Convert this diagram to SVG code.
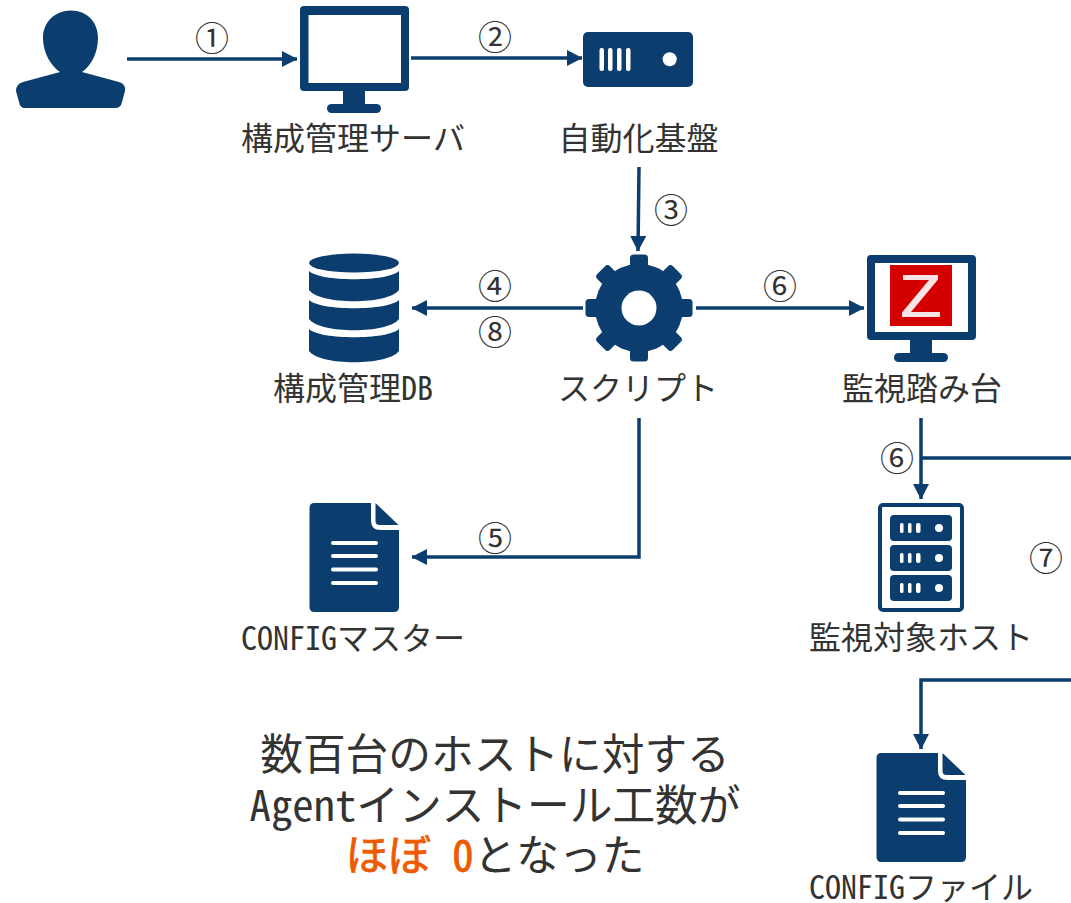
<svg xmlns="http://www.w3.org/2000/svg" xmlns:xlink="http://www.w3.org/1999/xlink" width="1071" height="903" viewBox="0 0 1071 903">
<style>
text{font-family:"Noto Sans Mono CJK JP","Noto Sans CJK JP","Noto Sans CJK SC",sans-serif;fill:#333;text-anchor:middle;font-weight:300}
.l{font-size:32px}
.n{font-size:34px}
.b{font-size:42.7px}
.o{fill:#ee5a00;stroke:#ee5a00;stroke-width:.8;font-weight:400}
.c{fill:none;stroke:#0b3e6f;stroke-width:3.5}
.f{fill:#0b3e6f}
.w{fill:#fff}
</style>
<defs>
<marker id="a" markerUnits="userSpaceOnUse" markerWidth="16" markerHeight="16" refX="15" refY="8" orient="auto"><path d="M0 0L15.500 8L0 16Z" fill="#0b3e6f"/></marker>
<g id="doc"><path class="f" d="M5 0H61.500V18Q61.500 27 71 27H89.500V104Q89.500 109 84.500 109H5Q0 109 0 104V5Q0 0 5 0Z"/><path class="f" d="M66 0L89 22H70Q66 22 66 18Z"/><g class="w"><rect x="21.500" y="38" width="47" height="4" rx="2"/><rect x="21.500" y="51" width="47" height="4" rx="2"/><rect x="21.500" y="64.500" width="47" height="4" rx="2"/><rect x="21.500" y="78" width="47" height="4" rx="2"/></g></g>
<rect id="tooth" x="-9" y="-53.500" width="18" height="20" rx="3.500" class="f"/>
</defs>
<g id="connectors">
<path class="c" marker-end="url(#a)" d="M127 59H297"/>
<path class="c" marker-end="url(#a)" d="M411 58H582"/>
<path class="c" marker-end="url(#a)" d="M639 167L638 251"/>
<path class="c" marker-end="url(#a)" d="M583 308H412"/>
<path class="c" marker-end="url(#a)" d="M696 308H864"/>
<path class="c" marker-end="url(#a)" d="M639 418V557H412"/>
<path class="c" marker-end="url(#a)" d="M921 418V499"/>
<path class="c" d="M921 458H1071"/>
<path class="c" marker-end="url(#a)" d="M1071 680H921V749"/>
</g>
<g id="user"><path class="f" d="M71 10.500C87 10.500 98 22 98 38C98 53 91 66 82 72L119 82Q126 84 125 91L122 102Q121 108 115 108H25Q20 108 19 102L16 91Q16 84 23 82L60 72C51 66 43 53 43 38C43 22 55 10.500 71 10.500Z"/></g>
<g id="config-server"><path class="f" fill-rule="evenodd" d="M304 6H405Q409 6 409 10V87Q409 91 405 91H304Q300 91 300 87V10Q300 6 304 6ZM308.500 15V83H401V15Z"/><rect class="f" x="343" y="90" width="22" height="16"/><rect class="f" x="327" y="104" width="54" height="9" rx="4.500"/><text class="l" x="353" y="150">構成管理サーバ</text></g>
<g id="automation"><rect class="f" x="583" y="32" width="110" height="55" rx="5"/><g class="w"><rect x="599.500" y="48" width="4.500" height="23" rx="2"/><rect x="608" y="48" width="4.500" height="23" rx="2"/><rect x="617" y="48" width="4.500" height="23" rx="2"/><rect x="626" y="48" width="4.500" height="23" rx="2"/><circle cx="669.700" cy="59.300" r="7"/></g><text class="l" x="638.500" y="150">自動化基盤</text></g>
<g id="db"><ellipse class="f" cx="354" cy="263" rx="45" ry="9.500"/><path class="f" d="M309 271C320 282 388 282 399 271V290C388 305 320 305 309 290Z"/><path class="f" d="M309 300C320 311 388 311 399 300V319C388 334 320 334 309 319Z"/><path class="f" d="M309 329C320 340 388 340 399 329V351C388 366 320 366 309 351Z"/><text class="l" x="353" y="400">構成管理DB</text></g>
<g id="script"><circle class="f" cx="639" cy="308" r="44"/><g transform="translate(639,308)"><use href="#tooth"/><use href="#tooth" transform="rotate(45)"/><use href="#tooth" transform="rotate(90)"/><use href="#tooth" transform="rotate(135)"/><use href="#tooth" transform="rotate(180)"/><use href="#tooth" transform="rotate(225)"/><use href="#tooth" transform="rotate(270)"/><use href="#tooth" transform="rotate(315)"/></g><circle class="w" cx="639" cy="308" r="17.500"/><text class="l" x="638" y="400">スクリプト</text></g>
<g id="zabbix-host"><path class="f" fill-rule="evenodd" d="M871 255H972Q976 255 976 259V336Q976 340 972 340H871Q867 340 867 336V259Q867 255 871 255ZM875 263V332H968V263Z"/><rect class="f" x="910" y="339" width="22" height="16"/><rect class="f" x="894" y="353" width="54" height="9" rx="4.500"/><rect x="890" y="265" width="62" height="61" fill="#d40000"/><path d="M903 275H938V279.500L911 312H940V317H902V312.500L929 280H903Z" fill="#fbe4e4"/><text class="l" x="922" y="400">監視踏み台</text></g>
<g id="monitored"><rect x="880" y="505" width="82" height="105" rx="3" fill="#fff" stroke="#0b3e6f" stroke-width="4"/><rect class="f" x="890" y="515" width="62" height="26" rx="4"/><rect class="f" x="890" y="545" width="62" height="26" rx="4"/><rect class="f" x="890" y="575" width="62" height="26" rx="4"/><g class="w"><rect x="900" y="523" width="3.500" height="10" rx="1.500"/><rect x="908" y="523" width="3.500" height="10" rx="1.500"/><rect x="916" y="523" width="4.500" height="10" rx="2"/><rect x="900" y="553" width="3.500" height="10" rx="1.500"/><rect x="908" y="553" width="3.500" height="10" rx="1.500"/><rect x="916" y="553" width="4.500" height="10" rx="2"/><rect x="900" y="583" width="3.500" height="10" rx="1.500"/><rect x="908" y="583" width="3.500" height="10" rx="1.500"/><rect x="916" y="583" width="4.500" height="10" rx="2"/><circle cx="939" cy="528" r="4"/><circle cx="939" cy="558" r="4"/><circle cx="939" cy="588" r="4"/></g><text class="l" x="921" y="649">監視対象ホスト</text></g>
<g id="config-master"><use xlink:href="#doc" href="#doc" x="309.500" y="503"/><text class="l" x="353" y="650">CONFIGマスター</text></g>
<g id="config-file"><use xlink:href="#doc" href="#doc" x="876.500" y="753"/><text class="l" x="921" y="899">CONFIGファイル</text></g>
<g id="labels">
<text class="n" x="212" y="50.500">①</text><text class="n" x="495" y="50">②</text><text class="n" x="671" y="223">③</text><text class="n" x="495" y="299">④</text><text class="n" x="495" y="345">⑧</text><text class="n" x="780" y="299">⑥</text><text class="n" x="495" y="551">⑤</text><text class="n" x="897" y="471">⑥</text><text class="n" x="1046" y="571">⑦</text>
</g>
<g id="note">
<text class="b" x="495" y="770">数百台のホストに対する</text>
<text class="b" x="495" y="821">Agentインストール工数が</text>
<text class="b" x="495" y="871"><tspan class="o">ほぼ 0</tspan>となった</text>
</g>
</svg>
